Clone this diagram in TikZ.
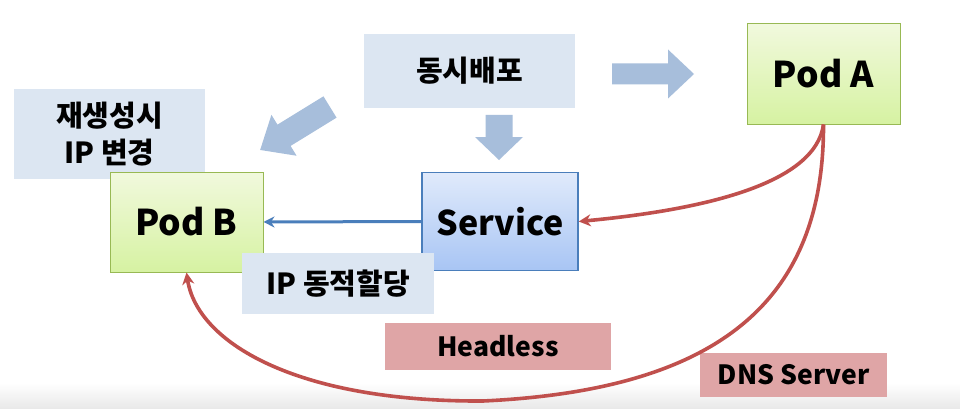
\documentclass[tikz,border=0pt]{standalone}
\usepackage{fontspec}
\setmainfont{Noto Sans CJK KR}
\usetikzlibrary{arrows.meta}
\definecolor{lab}{HTML}{DCE6F2}
\definecolor{blk}{HTML}{A7BEDB}
\definecolor{podtop}{HTML}{F1F9DD}
\definecolor{podbot}{HTML}{D6F2A2}
\definecolor{podborder}{HTML}{98B954}
\definecolor{svctop}{HTML}{E0EAFB}
\definecolor{svcbot}{HTML}{A8C5F4}
\definecolor{svcborder}{HTML}{4A7EBB}
\definecolor{redl}{HTML}{C0504D}
\definecolor{redbox}{HTML}{DFA5A6}
\begin{document}
\begin{tikzpicture}[x=1pt,y=-1pt,
  box/.style={inner sep=0pt, align=center},
  lbl/.style={box, fill=lab, font=\fontsize{29}{37}\selectfont\bfseries},
  redlbl/.style={box, fill=redbox, font=\fontsize{26.5}{30}\selectfont\bfseries},
  pod/.style={box, draw=podborder, line width=1pt, top color=podtop, bottom color=podbot,
    minimum width=153pt, minimum height=100pt, font=\fontsize{35.5}{40}\selectfont\bfseries},
  svc/.style={box, draw=svcborder, line width=1.5pt, top color=svctop, bottom color=svcbot,
    minimum width=156pt, minimum height=98pt, font=\fontsize{34}{40}\selectfont\bfseries},
  blockarrow/.style={fill=blk},
  redarrow/.style={draw=redl, line width=3.6pt, -{Stealth[length=12pt,width=12pt]}},
  bluearrow/.style={draw=svcborder, line width=3pt, -{Stealth[length=11pt,width=11pt]}}
]
\useasboundingbox (0,0) rectangle (960,409);
\fill[white] (0,0) rectangle (960,409);
\shade[top color=white, bottom color=black!9] (0,383) rectangle (960,409);

% block arrows
\fill[blockarrow] (612,63.5) -- (668,63.5) -- (668,49.5) -- (694,74) -- (668,98.5) -- (668,84.5) -- (612,84.5) -- cycle;
\fill[blockarrow] (485.5,115) -- (512.5,115) -- (512.5,137) -- (523,137) -- (499,160) -- (475,137) -- (485.5,137) -- cycle;
\begin{scope}[shift={(330,107)}, rotate=211.6]
\fill[blockarrow] (0,-12.5) -- (54,-12.5) -- (54,-24) -- (82,0) -- (54,24) -- (54,12.5) -- (0,12.5) -- cycle;
\end{scope}

% nodes
\node[lbl, minimum width=211pt, minimum height=74pt] (deploy) at (469.5,71) {동시배포};
\node[lbl, minimum width=191pt, minimum height=90pt] (regen) at (109.5,134) {재생성시\\IP 변경};
\node[pod] (podB) at (186.5,222) {Pod B};
\node[svc] (service) at (500,221.5) {Service};
\node[pod] (podA) at (823.5,74) {Pod A};
\node[lbl, minimum width=192pt, minimum height=61pt] (ipdyn) at (338,283.5) {IP 동적할당};
\node[redlbl, minimum width=226pt, minimum height=47pt] (headless) at (498,346.5) {Headless};
\node[redlbl, minimum width=187pt, minimum height=44pt] (dns) at (793.5,375) {DNS Server};

% connectors
\draw[bluearrow] (service.west) -- (podB.east);
\draw[redarrow] (podA.south) .. controls (815,185) and (700,210) .. (service.east);
\coordinate (low) at (483,401);
\draw[redarrow] (podA.south) .. controls (824,300) and (720,390) .. (low)
  .. controls (295,402) and (197,342) .. (podB.south);
\end{tikzpicture}
\end{document}
